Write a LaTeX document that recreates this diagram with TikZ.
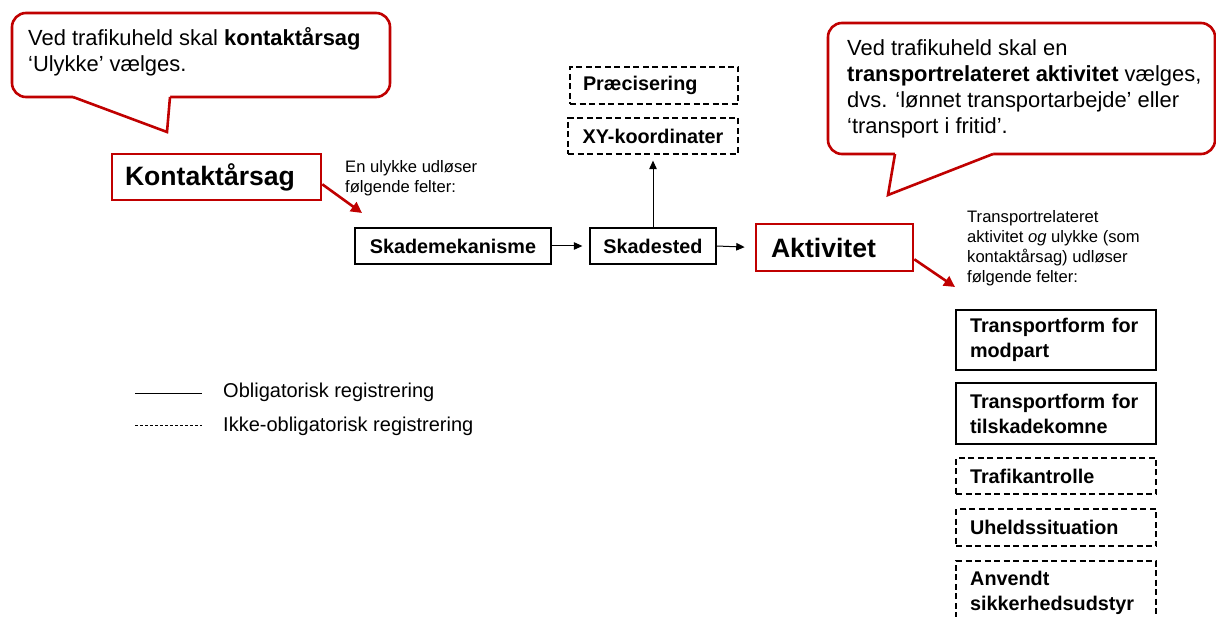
\documentclass[tikz,border=0pt]{standalone}
\usepackage{fontspec}
\setmainfont{Liberation Sans}
\usetikzlibrary{arrows.meta,calc}
\definecolor{cred}{HTML}{C00000}
\begin{document}
\begin{tikzpicture}[x=1pt,y=-1pt,
  box/.style={draw=black, line width=1.3pt, inner sep=0pt, align=center,
    font=\fontsize{19.8}{25}\selectfont\bfseries},
  optbox/.style={box, dash pattern=on 6pt off 3.5pt},
  rbox/.style={box, text width=172pt, align=left, inner xsep=14pt, minimum width=200pt},
  redbox/.style={draw=cred, line width=2.6pt, inner ysep=0pt, align=left,
    font=\fontsize{26.6}{30}\selectfont\bfseries},
  callout/.style={fill=white, draw=cred, line width=2.6pt, rounded corners=14pt},
  tail/.style={draw=cred, line width=2.6pt, line join=miter},
  redarrow/.style={draw=cred, line width=2.6pt, -{Triangle[length=11pt,width=11pt]}},
  blkarrow/.style={draw=black, line width=1pt, -{Triangle[length=8.5pt,width=7.5pt]}},
  calltext/.style={anchor=north west, inner sep=0pt, align=left,
    font=\fontsize{21.9}{26}\selectfont},
  smalltext/.style={anchor=north west, inner sep=0pt, align=left,
    font=\fontsize{16.6}{20}\selectfont},
  legtext/.style={anchor=base west, inner sep=0pt, font=\fontsize{20}{24}\selectfont},
  legline/.style={draw=black, line width=0.8pt}
]
\useasboundingbox[fill=white] (0,0) rectangle (1216,617);

% ---- callout 1
\path[callout] (12,13) rectangle (390,97);
\fill[white] (73,97) -- (167,132) -- (170,97) -- (170,93) -- (73,93) -- cycle;
\draw[tail] (73,97) -- (167,132) -- (170,97);
\node[calltext] (c1text) at (28,{45-18.2}) {\strut Ved trafikuheld skal \textbf{kontaktårsag}\\‘Ulykke’ vælges.};

% ---- callout 2
\path[callout] (828,23) rectangle (1215,154);
\fill[white] (895,154) -- (888,195) -- (993,154) -- (993,150) -- (895,150) -- cycle;
\draw[tail] (895,154) -- (888,195) -- (993,154);
\node[calltext] (c2text) at (847,{55-18.2}) {\strut Ved trafikuheld skal en\\\textbf{transportrelateret aktivitet} vælges,\\dvs. ‘lønnet transportarbejde’ eller\\‘transport i fritid’.};

% ---- main boxes
\node[redbox, text width=183pt, inner xsep=13pt, minimum height=46pt] (kontakt) at (216.5,177) {Kontaktårsag};
\node[smalltext] (kontakttxt) at (345,{172-14}) {\strut En ulykke udløser\\følgende felter:};
\coordinate (kend) at (362,213);
\draw[redarrow] ([yshift=17pt]kontakt.south east) -- (kend);

\node[box, minimum width=196pt, minimum height=36pt] (mek) at (453,246) {Skademekanisme};
\node[box, minimum width=126pt, minimum height=36pt] (sted) at (653,246) {Skadested};
\node[optbox, minimum width=170pt, minimum height=36pt] (xy) at (653,136) {XY-koordinater};
\node[optbox, text width=142pt, align=left, inner xsep=13pt, minimum height=37pt] (praec) at (654,85.5) {Præcisering};
\node[redbox, text width=141pt, inner xsep=8pt, minimum height=47pt] (akt) at (834.5,247.5) {\hspace*{7pt}Aktivitet};

\draw[blkarrow, shorten >=7pt] (mek.east) -- (sted.west);
\draw[blkarrow, shorten >=10pt] (sted.east) -- (akt.west);
\draw[blkarrow, shorten >=6pt] (sted.north) -- (xy.south);

\coordinate (aend) at (955,287);
\draw[redarrow] ([yshift=13pt]akt.south east) -- (aend);
\node[smalltext] (akttxt) at (967,{222-14}) {\strut Transportrelateret\\aktivitet \textit{og} ulykke (som\\kontaktårsag) udløser\\følgende felter:};

% ---- right column
\node[rbox, minimum height=60pt] (b1) at (1056,340) {Transportform for\\modpart};
\node[rbox, minimum height=61pt] (b2) at (1056,413.5) {Transportform for\\tilskadekomne};
\node[optbox, text width=172pt, align=left, inner xsep=14pt, minimum width=200pt, minimum height=36pt] (b3) at (1056,476) {Trafikantrolle};
\node[optbox, text width=172pt, align=left, inner xsep=14pt, minimum width=200pt, minimum height=37pt] (b4) at (1056,527.5) {Uheldssituation};
\node[anchor=north west, inner xsep=14pt, inner ysep=0pt, text width=172pt, align=left,
  font=\fontsize{19.8}{25}\selectfont\bfseries] (b5) at (956,{585-17.5}) {\strut Anvendt\\sikkerhedsudstyr};
\draw[draw=black, line width=1.3pt, dash pattern=on 6pt off 3.5pt] (956,618) |- (1156,561) -- (1156,618);

% ---- legend
\coordinate (l1a) at (135,393);
\coordinate (l1b) at (202,393);
\coordinate (l2a) at (135,425);
\coordinate (l2b) at (202,425);
\draw[legline] (l1a) -- (l1b);
\draw[legline, line width=0.6pt, dash pattern=on 3pt off 2pt] (l2a) -- (l2b);
\node[legtext] (leg1) at (223,398) {Obligatorisk registrering};
\node[legtext] (leg2) at (223,432) {Ikke-obligatorisk registrering};
\end{tikzpicture}
\end{document}
